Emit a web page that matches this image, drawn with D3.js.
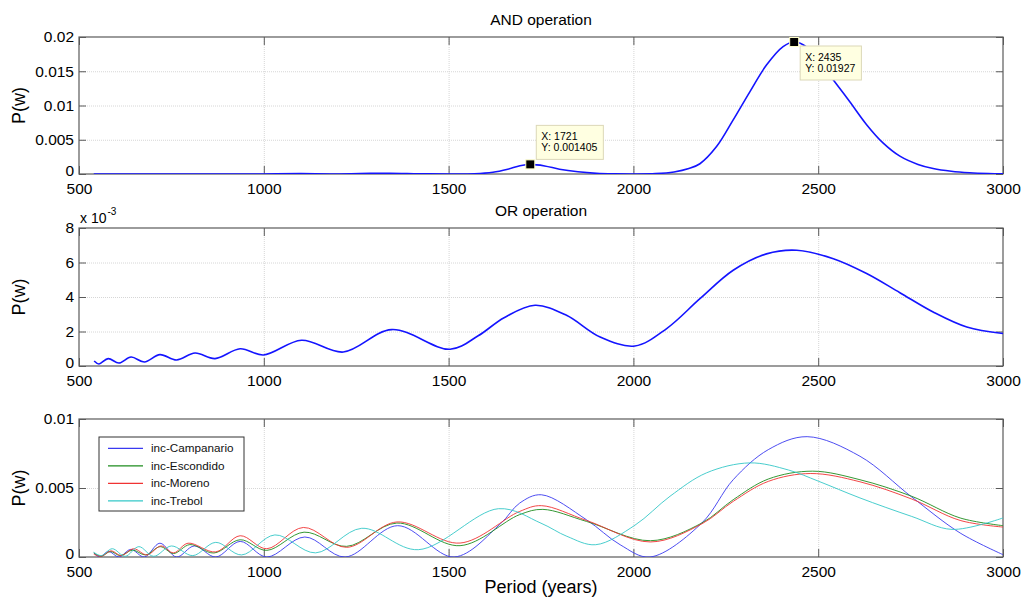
<!DOCTYPE html>
<html>
<head>
<meta charset="utf-8">
<script src="https://cdn.jsdelivr.net/npm/d3@7"></script>
<style>
  body { margin: 0; background: #fff; }
  text { font-family: "Liberation Sans", Arial, Helvetica, sans-serif; }
</style>
</head>
<body>
<div id="chart"></div>
<script>
// Period axis (years), shared by all three panels
const xTicks = [500, 1000, 1500, 2000, 2500, 3000];

// AND operation: [period, P(w)]
const andSeries = [
  [540, 0], [600, 0], [700, 0], [800, 0], [900, 0], [1000, 0.00001], [1100, 0.00005],
  [1180, 0.00001], [1260, 0.00006], [1340, 0.00012], [1420, 0.00004], [1500, 0],
  [1570, 0.00003], [1620, 0.00025], [1660, 0.0007], [1693, 0.0012], [1721, 0.001405],
  [1760, 0.00118], [1800, 0.0007], [1850, 0.00032], [1900, 0.0001], [1950, 0.00002],
  [2000, 0], [2060, 0.00005], [2110, 0.0003], [2150, 0.0008], [2180, 0.0015],
  [2225, 0.0040], [2270, 0.0079], [2315, 0.0120], [2360, 0.0159], [2405, 0.0186],
  [2435, 0.01927], [2470, 0.0185], [2500, 0.0166], [2540, 0.0138], [2586, 0.0105],
  [2631, 0.0072], [2676, 0.0045], [2721, 0.0026], [2770, 0.0014], [2811, 0.0008],
  [2860, 0.0004], [2910, 0.00018], [2960, 0.00007], [3000, 0.00003]
];
const andTicks = [0, 0.005, 0.01, 0.015, 0.02];
const andTickLabels = ["0", "0.005", "0.01", "0.015", "0.02"];
// data tips shown on the AND curve
const andTips = [[1721, 0.001405], [2435, 0.01927]];

// OR operation: [period, P(w) x 10^-3]
const orSeries = [
  [541, 0.29], [554, 0.12], [579, 0.43], [608, 0.17], [641, 0.52], [677, 0.23],
  [719, 0.66], [764, 0.35], [814, 0.75], [868, 0.43], [936, 1.0], [999, 0.64],
  [1102, 1.49], [1215, 0.81], [1346, 2.11], [1504, 0.97], [1580, 1.75], [1650, 2.8],
  [1734, 3.52], [1819, 2.94], [1910, 1.68], [2004, 1.16], [2090, 2.17], [2180, 3.9],
  [2270, 5.55], [2360, 6.5], [2442, 6.71], [2541, 6.22], [2631, 5.36], [2721, 4.25],
  [2811, 3.13], [2902, 2.26], [3000, 1.88]
];
const orTicks = [0, 2, 4, 6, 8];
const orTickLabels = ["0", "2", "4", "6", "8"];

// Individual records: [period, P(w) x 10^-3]
const stationNames = ["inc-Campanario", "inc-Escondido", "inc-Moreno", "inc-Trebol"];
const campanario = [
  [540, 0.3], [556, 0], [580, 0.4], [608, 0], [640, 0.55], [677, 0], [719, 1.0], [764, 0],
  [812, 0.8], [870, 0], [936, 1.13], [1008, 0], [1111, 1.45], [1220, 0], [1362, 2.27],
  [1515, 0], [1640, 2.4], [1692, 3.9], [1751, 4.51], [1873, 2.7], [1964, 0.89], [2045, 0],
  [2185, 2.46], [2270, 5.6], [2365, 7.78], [2470, 8.72], [2613, 7.3], [2753, 4.35],
  [2884, 1.74], [3000, 0.17]
];
const escondido = [
  [540, 0.3], [560, 0.05], [585, 0.4], [612, 0.1], [645, 0.5], [680, 0.15], [720, 0.75],
  [756, 0.25], [800, 0.9], [865, 0.29], [936, 1.25], [1008, 0.48], [1109, 1.8], [1224, 0.77],
  [1360, 2.46], [1531, 0.82], [1692, 3.07], [1755, 3.45], [1873, 2.58], [2046, 1.18],
  [2185, 2.46], [2270, 4.15], [2365, 5.65], [2485, 6.22], [2613, 5.6], [2753, 4.4],
  [2884, 2.83], [3000, 2.27]
];
const moreno = [
  [540, 0.2], [560, 0.05], [587, 0.45], [614, 0.1], [648, 0.6], [684, 0.15], [722, 0.8],
  [756, 0.3], [795, 1.0], [870, 0.37], [936, 1.54], [1008, 0.6], [1107, 2.14], [1224, 0.7],
  [1360, 2.54], [1531, 1.01], [1692, 3.3], [1751, 3.72], [1873, 2.65], [2046, 1.09],
  [2185, 2.4], [2270, 4.03], [2365, 5.48], [2480, 6.05], [2613, 5.45], [2753, 4.2],
  [2884, 2.65], [3000, 2.17]
];
const trebol = [
  [540, 0.35], [560, 0.1], [590, 0.6], [625, 0.05], [662, 0.75], [702, 0.05], [750, 0.8],
  [808, 0.1], [870, 1.06], [940, 0.15], [1030, 1.6], [1140, 0.3], [1265, 2.08], [1418, 0.53],
  [1635, 3.5], [1750, 2.45], [1820, 1.5], [1898, 0.89], [2004, 2.3], [2099, 4.4],
  [2198, 6.1], [2315, 6.82], [2420, 6.3], [2500, 5.5], [2613, 4.28], [2753, 2.94],
  [2862, 2.0], [3000, 2.83]
];
const stationTicks = [0, 5, 10];
const stationTickLabels = ["0", "0.005", "0.01"];

const stationColors = ["#3a3af0", "#1e8c1e", "#f03333", "#35c8c8"];

const width = 1027, height = 598;
const svg = d3.select("#chart").append("svg")
  .attr("width", width)
  .attr("height", height)
  .style("background", "#fff");
const defs = svg.append("defs");

const x = d3.scaleLinear().domain([500, 3000]).range([79, 1003]);
const plotW = x.range()[1] - x.range()[0];

const axisColor = "#5a5a5a";

// frame, grid, inside ticks and labels for one panel
function drawPanel(p) {
  const y = d3.scaleLinear().domain(p.domain).range([p.bottom, p.top]);
  const h = p.bottom - p.top;
  const g = svg.append("g");

  defs.append("clipPath")
    .attr("id", p.id)
    .append("rect")
    .attr("x", x.range()[0])
    .attr("y", p.top)
    .attr("width", plotW)
    .attr("height", h);

  // dotted grid
  g.append("g")
    .attr("transform", `translate(0,${p.bottom})`)
    .call(d3.axisBottom(x).tickValues(xTicks.slice(1, -1)).tickSize(-h).tickFormat(""))
    .call(a => a.select(".domain").remove())
    .selectAll("line")
    .attr("stroke", "#d6d6d6")
    .attr("stroke-dasharray", "1,1");
  g.append("g")
    .attr("transform", `translate(${x.range()[0]},0)`)
    .call(d3.axisLeft(y).tickValues(p.ticks.slice(1, -1)).tickSize(-plotW).tickFormat(""))
    .call(a => a.select(".domain").remove())
    .selectAll("line")
    .attr("stroke", "#d6d6d6")
    .attr("stroke-dasharray", "1,1");

  // axes with inside ticks
  const bottomAxis = g.append("g")
    .attr("transform", `translate(0,${p.bottom})`)
    .call(d3.axisBottom(x).tickValues(xTicks).tickSizeInner(-8).tickSizeOuter(0).tickPadding(9)
      .tickFormat(d3.format("d")));
  const topAxis = g.append("g")
    .attr("transform", `translate(0,${p.top})`)
    .call(d3.axisTop(x).tickValues(xTicks).tickSizeInner(-8).tickSizeOuter(0).tickFormat(""));
  const leftAxis = g.append("g")
    .attr("transform", `translate(${x.range()[0]},0)`)
    .call(d3.axisLeft(y).tickValues(p.ticks).tickSizeInner(-7).tickSizeOuter(0).tickPadding(5)
      .tickFormat((d, i) => p.tickLabels[i]));
  const rightAxis = g.append("g")
    .attr("transform", `translate(${x.range()[1]},0)`)
    .call(d3.axisRight(y).tickValues(p.ticks).tickSizeInner(-7).tickSizeOuter(0).tickFormat(""));

  [bottomAxis, topAxis, leftAxis, rightAxis].forEach(a => {
    a.select(".domain").remove();
    a.selectAll("line").attr("stroke", axisColor);
    a.selectAll("text")
      .attr("fill", "#000")
      .style("font-size", "15.5px")
      .style("font-family", "'Liberation Sans', Arial, sans-serif");
  });
  // the zero label sits a little higher so it clears the first period label
  leftAxis.selectAll(".tick text").filter(d => d === p.domain[0]).attr("dy", "0.1em");

  // box
  g.append("rect")
    .attr("x", x.range()[0])
    .attr("y", p.top)
    .attr("width", plotW)
    .attr("height", h)
    .attr("fill", "none")
    .attr("stroke", axisColor)
    .attr("stroke-width", 1.2);

  // y label
  g.append("text")
    .attr("transform", `translate(25,${(p.top + p.bottom) / 2}) rotate(-90)`)
    .attr("text-anchor", "middle")
    .style("font-size", "18px")
    .text("P(w)");

  if (p.title) {
    g.append("text")
      .attr("x", (x.range()[0] + x.range()[1]) / 2)
      .attr("y", p.top - 12.5)
      .attr("text-anchor", "middle")
      .style("font-size", "15.5px")
      .text(p.title);
  }
  const plot = g.append("g").attr("clip-path", `url(#${p.id})`);
  return { g, plot, y };
}

const line = (y) => d3.line()
  .x(d => x(d[0]))
  .y(d => y(d[1]))
  .curve(d3.curveCatmullRom.alpha(0.5));

// ---- AND operation ----
const andPanel = drawPanel({
  id: "clip-and", top: 37, bottom: 174, domain: [0, 0.02],
  ticks: andTicks, tickLabels: andTickLabels, title: "AND operation"
});
andPanel.plot.append("path")
  .datum(andSeries)
  .attr("d", line(andPanel.y))
  .attr("fill", "none")
  .attr("stroke", "#1414ff")
  .attr("stroke-width", 1.6);

// data tips
andTips.forEach((d, i) => {
  const px = x(d[0]), py = andPanel.y(d[1]);
  const tip = andPanel.g.append("g");
  const box = tip.append("rect")
    .attr("fill", "#ffffe1")
    .attr("stroke", "#dcd8b8")
    .attr("stroke-width", 1);
  const texts = [`X: ${d[0]}`, `Y: ${d[1]}`].map(s => tip.append("text")
    .style("font-size", "10.5px")
    .attr("fill", "#000")
    .text(s));
  const bw = d3.max(texts, t => t.node().getComputedTextLength()) + 11;
  const bh = 34;
  const bx = px + 6;
  const by = i === 0 ? py - 5 - bh : py + 4;
  box.attr("x", bx).attr("y", by).attr("width", bw).attr("height", bh);
  texts.forEach((t, k) => t.attr("x", bx + 5).attr("y", by + 14.5 + k * 11));
  tip.append("rect")
    .attr("x", px - 4.5)
    .attr("y", py - 4.5)
    .attr("width", 9)
    .attr("height", 9)
    .attr("fill", "#000")
    .attr("stroke", "#ffffc8")
    .attr("stroke-width", 1);
});

// ---- OR operation ----
const orPanel = drawPanel({
  id: "clip-or", top: 228, bottom: 366, domain: [0, 8],
  ticks: orTicks, tickLabels: orTickLabels, title: "OR operation"
});
orPanel.plot.append("path")
  .datum(orSeries)
  .attr("d", line(orPanel.y))
  .attr("fill", "none")
  .attr("stroke", "#1414ff")
  .attr("stroke-width", 1.6);

// exponent label
const expo = orPanel.g.append("text")
  .attr("x", 80)
  .attr("y", 223)
  .style("font-size", "14px");
expo.append("tspan").text("x 10");
expo.append("tspan")
  .attr("dy", -8)
  .attr("dx", 1)
  .style("font-size", "10px")
  .text("-3");

// ---- individual records ----
const stPanel = drawPanel({
  id: "clip-st", top: 419, bottom: 557, domain: [0, 10],
  ticks: stationTicks, tickLabels: stationTickLabels
});
const stationSeries = [campanario, escondido, moreno, trebol];
stPanel.plot.selectAll(".station")
  .data(stationSeries)
  .enter()
  .append("path")
  .attr("class", "station")
  .attr("d", d => line(stPanel.y)(d))
  .attr("fill", "none")
  .attr("stroke", (d, i) => stationColors[i])
  .attr("stroke-width", 1)
  .attr("stroke-opacity", 0.9);

// x label
svg.append("text")
  .attr("x", (x.range()[0] + x.range()[1]) / 2)
  .attr("y", 593)
  .attr("text-anchor", "middle")
  .style("font-size", "18px")
  .text("Period (years)");

// legend
const legend = stPanel.g.append("g");
legend.append("rect")
  .attr("x", 99)
  .attr("y", 437)
  .attr("width", 145)
  .attr("height", 74)
  .attr("fill", "#fff")
  .attr("stroke", "#333")
  .attr("stroke-width", 1);
const rows = legend.selectAll(".row")
  .data(stationNames)
  .enter()
  .append("g")
  .attr("class", "row")
  .attr("transform", (d, i) => `translate(0,${448.3 + i * 17.5})`);
rows.append("line")
  .attr("x1", 108)
  .attr("x2", 143)
  .attr("stroke", (d, i) => stationColors[i])
  .attr("stroke-width", 1.2);
rows.append("text")
  .attr("x", 151)
  .attr("dy", "0.35em")
  .style("font-size", "11.7px")
  .attr("fill", "#111")
  .text(d => d);
</script>
</body>
</html>
